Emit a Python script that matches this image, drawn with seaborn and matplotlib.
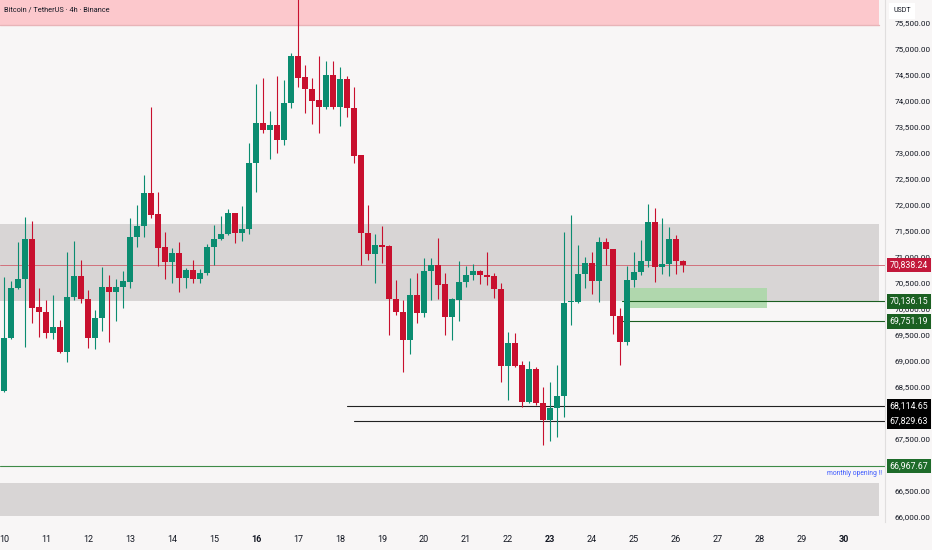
import numpy as np
import pandas as pd
import seaborn as sns
import matplotlib
matplotlib.use("Agg")
import matplotlib.pyplot as plt
import matplotlib.transforms as mtrans
from matplotlib.patches import Rectangle

# ---------------- data (BTC/USDT 4h candles) ----------------
opens = [68412, 69432, 70389, 70568, 71338, 70023, 69939, 69535, 69639, 69157,
         70216, 70632, 70183, 69427, 69812, 70414, 70312, 70408, 70516, 71383,
         71589, 72218, 71820, 71178, 70901, 71075, 70582, 70741, 70563, 70678,
         71190, 71338, 71434, 71833, 71460, 71525, 72795, 73565, 73437, 73533,
         73244, 73950, 74861, 74451, 74220, 74014, 73885, 74496, 73873, 74418,
         73866, 72949, 71460, 71050, 71223, 71204, 70183, 69939, 69394, 70260,
         69920, 70722, 70838, 70466, 69843, 70164, 70505, 70645, 70722, 70645,
         70626, 70376, 68899, 69342, 68913, 68195, 68836, 68187, 67854, 68079,
         68322, 70120, 70120, 70665, 70882, 70530, 71275, 71140, 69856, 69361,
         70549, 70697, 70915, 71671, 70805, 70857, 71332, 70915]
highs = [70607, 70536, 71286, 71768, 71691, 70389, 70164, 70260, 69779, 71088,
         71300, 70934, 70357, 69972, 70805, 70646, 70562, 70722, 71743, 71993,
         72570, 73885, 72249, 71479, 71159, 71286, 70774, 70934, 70755, 71242,
         71608, 71787, 71916, 71840, 71979, 73181, 74322, 74432, 73808, 74476,
         74399, 74919, 76100, 74688, 74432, 74861, 74771, 74771, 74655, 74476,
         74258, 72960, 71993, 71429, 71589, 71215, 70549, 70164, 70582, 70678,
         70967, 70967, 71352, 70678, 70203, 70915, 70819, 70851, 70742, 71094,
         70678, 70485, 69554, 69523, 68990, 68990, 68880, 68495, 68591, 68913,
         71479, 71800, 71223, 70998, 71094, 71383, 71363, 71150, 70004, 70824,
         71094, 71319, 72006, 71941, 71737, 71575, 71415, 70925]
lows = [68400, 69413, 70376, 69265, 69727, 69458, 69438, 69413, 69140, 68976,
        70164, 70112, 69234, 69215, 69573, 69350, 69766, 70016, 70389, 71190,
        71383, 71737, 70819, 70562, 70485, 70312, 70389, 70497, 70497, 70645,
        70838, 71319, 71415, 71255, 71300, 71434, 72249, 73373, 72872, 72988,
        73148, 73854, 74258, 73770, 73552, 73385, 73835, 73835, 73514, 73681,
        72795, 70838, 70934, 70497, 70882, 69490, 69875, 68784, 69124, 69715,
        69843, 70164, 70183, 69490, 69394, 69760, 70420, 70549, 70466, 70453,
        70197, 68580, 68239, 68880, 68110, 68180, 68143, 67373, 67450, 67527,
        67918, 69683, 70110, 70401, 70274, 70120, 70838, 69504, 68913, 69298,
        70420, 70645, 70805, 70505, 70659, 70632, 70665, 70709]
closes = [69432, 70389, 70568, 71338, 70016, 69939, 69535, 69639, 69157, 70216,
          70632, 70178, 69427, 69823, 70414, 70318, 70414, 70530, 71383, 71589,
          72218, 71801, 71171, 70901, 71063, 70582, 70741, 70568, 70678, 71190,
          71344, 71434, 71833, 71460, 71531, 72795, 73565, 73437, 73533, 73244,
          73950, 74861, 74443, 74220, 74001, 73885, 74496, 73873, 74418, 73866,
          72936, 71460, 71050, 71223, 71190, 70178, 69939, 69394, 70260, 69908,
          70722, 70838, 70453, 69843, 70178, 70505, 70645, 70722, 70645, 70613,
          70376, 68899, 69342, 68899, 68195, 68836, 68175, 67854, 68079, 68322,
          70116, 70135, 70665, 70882, 70530, 71275, 71140, 69856, 69361, 70549,
          70697, 70915, 71671, 70805, 70857, 71332, 70915, 70838.24]

day_labels = [str(d) for d in range(10, 31)]
bold_days = ["16", "23", "30"]
price_ticks = list(range(66000, 76000, 500))

# zones (price ranges)
resistance_zone = (75462, 76600)
mid_zone = (70150, 71620)
low_zone = (66000, 66650)
green_box = (70010, 70395)

# horizontal levels
last_price = 70838.24
green_levels = [70136.15, 69751.19]
black_levels = [68114.65, 67829.63]
monthly_open = 66967.67

# ---------------- style ----------------
sns.set_theme(style="white")
plt.rcParams['font.family'] = ['Roboto', 'DejaVu Sans']

BG = "#f8f6f6"
UP = "#0b8c70"
DOWN = "#c8102e"
TXT = "#131722"

df = pd.DataFrame({"open": opens, "high": highs, "low": lows, "close": closes})
df["idx"] = np.arange(len(df))
df["up"] = df["close"] >= df["open"]

fig = plt.figure(figsize=(9.32, 5.5), dpi=100, facecolor=BG)
ax = fig.add_axes([0, 28 / 550, 885 / 932, 522 / 550])
ax.set_facecolor(BG)

x_left, x_right = -4 / 7, -4 / 7 + 885 / 7
ax.set_xlim(x_left, x_right)
ax.set_ylim(65891, 75939)

zone_right = 125.0
ax.fill_between([x_left, zone_right], *resistance_zone, color="#fcc8cc", lw=0, zorder=0)
ax.plot([x_left, zone_right], [resistance_zone[0]] * 2, color="#e8b4b8", lw=1.0, zorder=0.5)
ax.fill_between([x_left, zone_right], *mid_zone, color="#d8d5d5", lw=0, zorder=0)
ax.fill_between([x_left, zone_right], *low_zone, color="#d8d5d5", lw=0, zorder=0)
ax.fill_between([89.0, 109.0], *green_box, color="#a9d8a6", alpha=0.85, lw=0, zorder=0.6)

# price line
ax.axhline(last_price, color="#d0606e", lw=0.6, zorder=0.7)
for lv in green_levels:
    ax.plot([88.3, x_right], [lv, lv], color="#1b5e20", lw=0.8, zorder=0.8)
ax.plot([49.0, x_right], [black_levels[0]] * 2, color="#222222", lw=0.8, zorder=0.8)
ax.plot([50.0, x_right], [black_levels[1]] * 2, color="#222222", lw=0.8, zorder=0.8)
ax.axhline(monthly_open, color="#3f8a47", lw=0.8, zorder=0.8)
ax.text(125.4, monthly_open - 70, "monthly opening !!", color="#3d5afe", fontsize=4.9,
        ha="right", va="top", zorder=3)

# candles
colors = np.where(df["up"], UP, DOWN)
ax.vlines(df["idx"], df["low"], df["high"], colors=colors, lw=0.8, zorder=2)
body_bottom = np.minimum(df["open"], df["close"])
body_h = np.maximum(np.abs(df["close"] - df["open"]), 25)
ax.bar(df["idx"], body_h, bottom=body_bottom, width=0.72, color=colors, lw=0, zorder=3)

# axes ticks
ax.set_xticks([6 * (int(d) - 10) for d in day_labels])
ax.set_xticklabels(day_labels)
for lab in ax.get_xticklabels():
    lab.set_fontsize(6.5)
    lab.set_color(TXT)
    if lab.get_text() in bold_days:
        lab.set_fontweight("bold")
ax.tick_params(axis="x", length=0, pad=9)

ax.yaxis.tick_right()
ax.set_yticks(price_ticks)
ax.set_yticklabels([f"{p:,.2f}" for p in price_ticks])
ax.tick_params(axis="y", length=0, pad=7, labelsize=5.9, labelcolor=TXT)
for s in ["top", "left", "bottom"]:
    ax.spines[s].set_visible(False)
ax.spines["right"].set_color("#e0dede")
ax.spines["right"].set_linewidth(0.8)
ax.grid(False)

# price tags on the right axis (fixed-width boxes covering the tick labels)
trans = mtrans.blended_transform_factory(ax.transAxes, ax.transData)
tags = [(last_price, "#c2183a"), (green_levels[0], "#1b6022"), (green_levels[1], "#1b6022"),
        (black_levels[0], "#000000"), (black_levels[1], "#000000"), (monthly_open, "#1e6b2a")]
box_h = 14.5 * 19.25
for val, col in tags:
    ax.add_patch(Rectangle((1.0 + 2 / 885, val - box_h / 2), 44 / 885, box_h,
                           transform=trans, fc=col, ec="none", zorder=9, clip_on=False))
    ax.text(1.0 + 24 / 885, val, f"{val:,.2f}", transform=trans, ha="center", va="center",
            fontsize=6.3, color="white", zorder=10, clip_on=False)

# USDT box
fig.text(893 / 932, 1 - 11 / 550, "USDT", fontsize=5.0, color=TXT, ha="left", va="center",
         bbox=dict(boxstyle="square,pad=0.6", fc="white", ec="none"), zorder=10)

# title
ax.text(4 / 885, 1 - 10 / 522, "Bitcoin / TetherUS · 4h · Binance", transform=ax.transAxes,
        fontsize=5.3, color=TXT, ha="left", va="center", zorder=5)

fig.savefig("out.png", dpi=100, facecolor=BG)
